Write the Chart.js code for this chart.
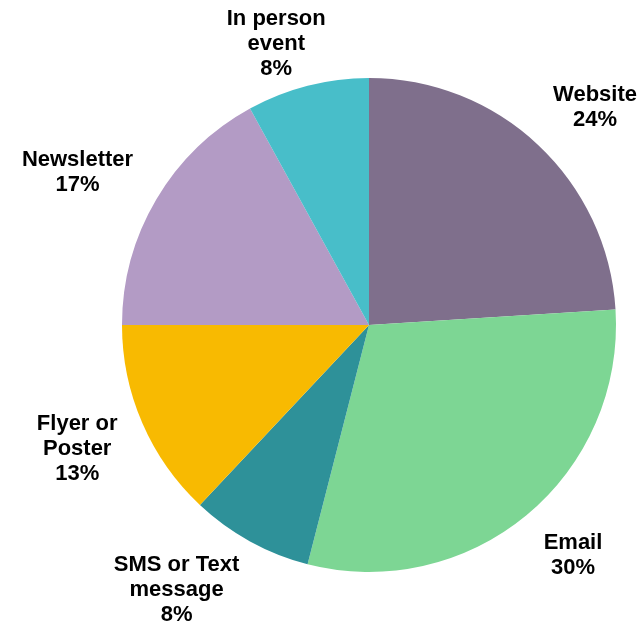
<!DOCTYPE html>
<html>
<head>
<meta charset="utf-8">
<script src="https://cdn.jsdelivr.net/npm/chart.js@4/dist/chart.umd.min.js"></script>
<style>
  html, body { margin: 0; padding: 0; background: #fff; }
  #wrap { width: 641px; height: 623px; }
</style>
</head>
<body>
<div id="wrap"><canvas id="pieChart" width="641" height="623"></canvas></div>
<script>
// categories, clockwise from 12 o'clock
const categories = [
    ['Website'],
    ['Email'],
    ['SMS or Text', 'message'],
    ['Flyer or', 'Poster'],
    ['Newsletter'],
    ['In person', 'event']
];
const percentages = [24, 30, 8, 13, 17, 8];
const sliceColors = ['#7f6f8c', '#7dd694', '#2e9199', '#f8ba01', '#b39bc5', '#48bec9'];

// draws the labels outside each slice, Excel "outside end" style
const outsideLabels = {
    id: 'outsideLabels',
    afterDatasetsDraw(chart) {
        const { ctx } = chart;
        const meta = chart.getDatasetMeta(0);
        const fontSize = 22;
        const lineHeight = 25;
        const gap = 27;
        ctx.save();
        ctx.font = `bold ${fontSize}px "Liberation Sans", Arial, sans-serif`;
        ctx.fillStyle = '#000';
        ctx.textAlign = 'center';
        ctx.textBaseline = 'middle';
        meta.data.forEach((arc, i) => {
            const lines = categories[i].concat([percentages[i] + '%']);
            const w = Math.max(...lines.map(l => ctx.measureText(l).width));
            const h = lines.length * lineHeight;
            const mid = (arc.startAngle + arc.endAngle) / 2;
            const dx = Math.cos(mid);
            const dy = Math.sin(mid);
            const r = arc.outerRadius + gap;
            const side = Math.max(-1, Math.min(1, dx * 2));
            let cx = arc.x + dx * r + side * w / 2;
            let cy = arc.y + dy * r + dy * h / 2;
            // keep the block inside the canvas
            cx = Math.min(Math.max(cx, w / 2 + 4), chart.width - w / 2 - 4);
            cy = Math.min(Math.max(cy, h / 2 + 6), chart.height - h / 2 + 4);
            lines.forEach((line, j) => {
                ctx.fillText(line, cx, cy - h / 2 + lineHeight * (j + 0.5));
            });
        });
        ctx.restore();
    }
};

const ctx = document.getElementById('pieChart').getContext('2d');
new Chart(ctx, {
    type: 'pie',
    data: {
        labels: categories,
        datasets: [{
            data: percentages,
            backgroundColor: sliceColors,
            borderWidth: 0
        }]
    },
    options: {
        responsive: false,
        animation: false,
        layout: {
            padding: { top: 78, bottom: 51, left: 122, right: 25 }
        },
        plugins: {
            legend: { display: false },
            tooltip: { enabled: false }
        }
    },
    plugins: [outsideLabels]
});
</script>
</body>
</html>
